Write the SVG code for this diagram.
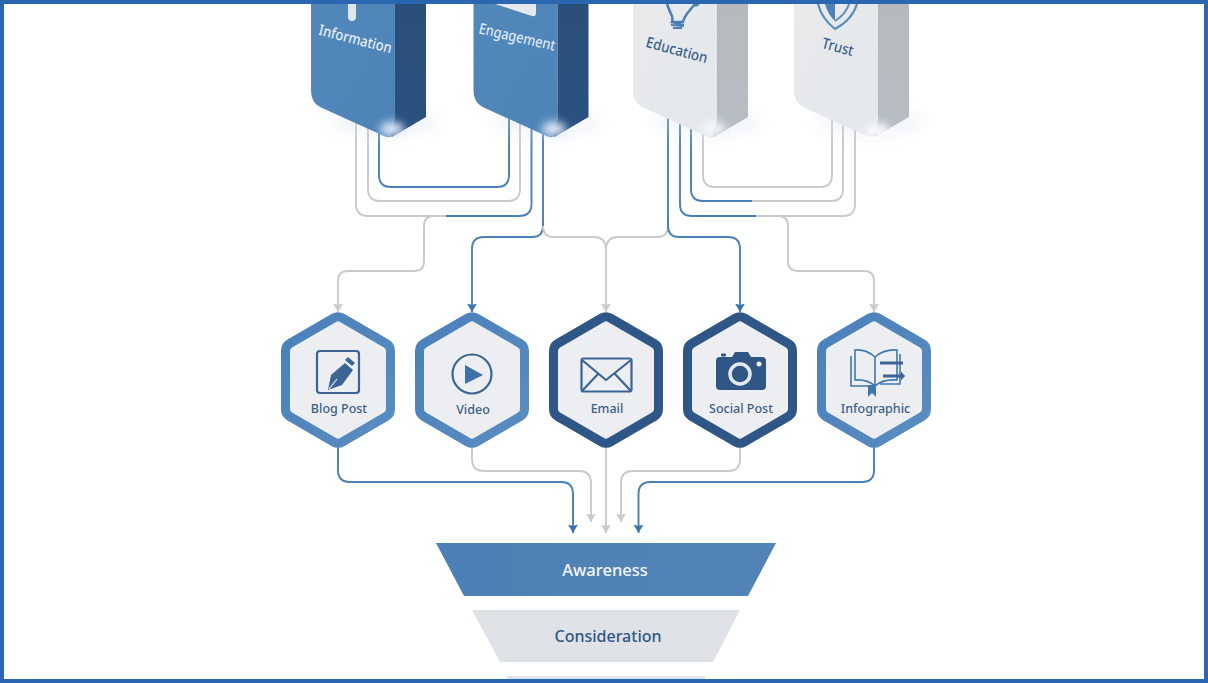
<svg xmlns="http://www.w3.org/2000/svg" width="1208" height="683" viewBox="0 0 1208 683">
<style>
.f{font-family:"Noto Sans","Open Sans","Liberation Sans",sans-serif}
.c{fill:none;stroke-width:1.900;stroke-linejoin:round}
.g{stroke:#c8cacc}
.b{stroke:#4a80b8}
.ag{marker-end:url(#ahg)}
.ab{marker-end:url(#ahb)}
.hx{fill:#eceef1;stroke-width:9;stroke-linejoin:round}
.hl{stroke:url(#hexL)}
.hd{stroke:#2e5687}
.hlab{font-size:12.500px;font-weight:500;fill:#3e5f88;text-anchor:middle}
.bl{font-size:15px;font-weight:500;text-anchor:middle}
.ic{fill:none;stroke:#3a6595;stroke-width:2.200;stroke-linejoin:round}
</style>
<defs>
<marker id="ahg" markerUnits="userSpaceOnUse" markerWidth="11" markerHeight="12" refX="8.500" refY="5.500" orient="auto"><path d="M0 0.500L8.500 5.500L0 10.500L1.500 5.500Z" fill="#c8cacc"/></marker>
<marker id="ahb" markerUnits="userSpaceOnUse" markerWidth="11" markerHeight="12" refX="8.500" refY="5.500" orient="auto"><path d="M0 0.500L8.500 5.500L0 10.500L1.500 5.500Z" fill="#3a72ad"/></marker>
<linearGradient id="hexL" x1="0" y1="0" x2="1" y2="1"><stop offset="0" stop-color="#4a80ba"/><stop offset="1" stop-color="#5a8cc0"/></linearGradient>
<linearGradient id="fb" x1="0" y1="0" x2="1" y2="1"><stop offset="0" stop-color="#5287bb"/><stop offset="1" stop-color="#4f84b8"/></linearGradient>
<linearGradient id="sb" x1="0" y1="0" x2="0" y2="1"><stop offset="0" stop-color="#2a5078"/><stop offset="1" stop-color="#2a5280"/></linearGradient>
<linearGradient id="fg" x1="0" y1="0" x2="1" y2="1"><stop offset="0" stop-color="#e8eaeb"/><stop offset="1" stop-color="#e4e8ec"/></linearGradient>
<linearGradient id="sg" x1="0" y1="0" x2="0" y2="1"><stop offset="0" stop-color="#b5b9bb"/><stop offset="1" stop-color="#b6bdc4"/></linearGradient>
<linearGradient id="fun" x1="0" y1="0" x2="1" y2="0"><stop offset="0" stop-color="#4c80b6"/><stop offset="1" stop-color="#5384b8"/></linearGradient>
<filter id="bl8" x="-60%" y="-60%" width="220%" height="220%"><feGaussianBlur stdDeviation="8"/></filter>
<filter id="bl3" x="-80%" y="-80%" width="260%" height="260%"><feGaussianBlur stdDeviation="4"/></filter>
<path id="blk" d="M0 -4H84V126L80 131.500Q78 133 74 131.500L9 102Q0 97 0 86Z"/>
<path id="side" d="M84 -4H115V112L81 132Q78 133 84 115Z"/>
<path id="hex" d="M-4.300 -62Q0 -64.500 4.300 -62L48.200 -36.500Q52.500 -34 52.500 -29V29Q52.500 34 48.200 36.500L4.300 62Q0 64.500 -4.300 62L-48.200 36.500Q-52.500 34 -52.500 29V-29Q-52.500 -34 -48.200 -36.500Z"/>
</defs>
<rect width="1208" height="683" fill="#fff"/>

<g id="connectors">
<path class="c b" d="M379 120V175Q379 187 391 187H497Q509 187 509 175V110"/>
<path class="c g" d="M368 120V189Q368 201 380 201H508Q520 201 520 189V110"/>
<path class="c g" d="M356 120V204Q356 216 368 216H446"/>
<path class="c b" d="M446 216H519Q531.500 216 531.500 204V120"/>
<path class="c g ag" d="M440 216H434Q424 216 424 226V261Q424 271 414 271H348Q338 271 338 281V312"/>
<path class="c b" d="M543 120V226"/>
<path class="c b ab" d="M543 220V226Q543 237 532 237H484Q472 237 472 249V312"/>
<path class="c g" d="M543 226Q543 237 554 237H594Q605 237 606 248"/>
<path class="c g ag" d="M606 248V312"/>
<path class="c g" d="M668 226Q668 237 657 237H618Q607 237 606 248"/>
<path class="c b" d="M668 110V226"/>
<path class="c b ab" d="M668 220V226Q668 237 679 237H728Q740 237 740 249V312"/>
<path class="c b" d="M680 120V204Q680 216 692 216H756"/>
<path class="c g" d="M756 216H843Q855 216 855 204V120"/>
<path class="c g ag" d="M778 216Q788 216 788 226V261Q788 271 798 271H864Q874 271 874 281V312"/>
<path class="c b" d="M691 120V189Q691 201 703 201H752"/>
<path class="c g" d="M752 201H831Q843 201 843 189V110"/>
<path class="c g" d="M703 120V175Q703 187 715 187H820Q832 187 832 175V110"/>
<path class="c b ab" d="M338 447V470Q338 482 350 482H561Q573 482 573 494V533"/>
<path class="c g ag" d="M472 447V459Q472 471 484 471H579Q591 471 591 483V522"/>
<path class="c g ag" d="M606 447V533"/>
<path class="c g ag" d="M740 447V459Q740 471 728 471H633Q621 471 621 483V522"/>
<path class="c b ab" d="M874 447V470Q874 482 862 482H650.500Q638.500 482 638.500 494V533"/>
</g>

<g id="information">
<ellipse cx="385" cy="122" rx="55" ry="14" fill="#c7d8ea" opacity=".25" filter="url(#bl8)"/>
<use href="#blk" x="311" y="5" fill="url(#fb)"/><use href="#side" x="311" y="5" fill="url(#sb)"/>
<ellipse cx="392" cy="129" rx="12" ry="7" fill="#dfeafa" filter="url(#bl3)"/>
<path d="M348 4H356V17Q356 21 352 21Q348 21 348 17Z" fill="#dfe6ec"/>
<text class="f bl" transform="translate(354 44) rotate(14.500)" fill="#e6eef6" textLength="75" lengthAdjust="spacingAndGlyphs">Information</text>
</g>
<g id="engagement">
<ellipse cx="547" cy="122" rx="55" ry="14" fill="#c7d8ea" opacity=".25" filter="url(#bl8)"/>
<use href="#blk" x="473.500" y="5" fill="url(#fb)"/><use href="#side" x="473.500" y="5" fill="url(#sb)"/>
<ellipse cx="554" cy="129" rx="12" ry="7" fill="#dfeafa" filter="url(#bl3)"/>
<path d="M495 4H536V13Q536 17 532 16Z" fill="#e4e9ee"/>
<text class="f bl" transform="translate(516 42) rotate(13)" fill="#dde8f2" textLength="78" lengthAdjust="spacingAndGlyphs">Engagement</text>
</g>
<g id="education">
<ellipse cx="708" cy="122" rx="55" ry="14" fill="#d3dfeb" opacity=".3" filter="url(#bl8)"/>
<use href="#blk" x="633" y="5" fill="url(#fg)"/><use href="#side" x="633" y="5" fill="url(#sg)"/>
<ellipse cx="714" cy="129" rx="12" ry="7" fill="#f4f8fc" filter="url(#bl3)"/>
<path d="M667 4Q670 12 672 16Q673 20 672 22H683Q684 17 690 10L695 4" fill="none" stroke="#4a7fb3" stroke-width="2.500"/>
<path d="M695 6L699 4" stroke="#4a7fb3" stroke-width="2.500"/>
<path d="M671 22L684 25M671 25L684 26M673 28L682 28" stroke="#4a7fb3" stroke-width="1.800" fill="none"/>
<text class="f bl" transform="translate(675.500 55) rotate(15)" fill="#3a608c" textLength="63" lengthAdjust="spacingAndGlyphs">Education</text>
</g>
<g id="trust">
<ellipse cx="870" cy="122" rx="55" ry="14" fill="#d3dfeb" opacity=".3" filter="url(#bl8)"/>
<use href="#blk" x="794" y="5" fill="url(#fg)"/><use href="#side" x="794" y="5" fill="url(#sg)"/>
<ellipse cx="878" cy="131" rx="12" ry="8" fill="#fafcff" filter="url(#bl3)"/>
<path d="M818 4Q822 19 835 29Q852 20 857 4" fill="none" stroke="#5b8cbb" stroke-width="2.200"/>
<path d="M825 4Q828 15 835 21V4Z" fill="#4f83b6"/>
<path d="M835 21Q846 14 849 4" fill="none" stroke="#5b8cbb" stroke-width="2"/>
<text class="f bl" transform="translate(836.500 52) rotate(15)" fill="#3a608c" textLength="32" lengthAdjust="spacingAndGlyphs">Trust</text>
</g>

<g id="blog-post">
<use href="#hex" x="338" y="380" class="hx hl"/>
<rect x="317" y="351" width="42" height="42" rx="3" class="ic"/>
<path d="M345 363L353 370L342 385L328 390L331 375Z" fill="#3a6595"/>
<path d="M345 360L348 357L355 363L352 366Z" fill="#3a6595"/>
<path d="M329 389L337 379" stroke="#eceef1" stroke-width="1.200"/>
<text class="f hlab" x="339" y="413">Blog Post</text>
</g>
<g id="video">
<use href="#hex" x="472" y="380" class="hx hl"/>
<circle cx="472" cy="374" r="19.500" class="ic"/>
<path d="M465 365L483 375L465 384Z" fill="#3f6fa5"/>
<text class="f hlab" x="473" y="414">Video</text>
</g>
<g id="email">
<use href="#hex" x="606" y="380" class="hx hd"/>
<rect x="581.500" y="358.500" width="50" height="33" rx="2" class="ic"/>
<path d="M582 360L606 380L631 360M582 391L598 374M631 391L615 374" class="ic"/>
<text class="f hlab" x="607" y="413">Email</text>
</g>
<g id="social-post">
<use href="#hex" x="740" y="380" class="hx hd"/>
<path d="M720 357H732L735 352H748L751 357H762Q766 357 766 361V386Q766 390 762 390H720Q716 390 716 386V361Q716 357 720 357Z" fill="#2f5684"/>
<rect x="721" y="353.500" width="5" height="3" rx="1" fill="#2f5684"/>
<circle cx="740" cy="374" r="10" fill="#2f5684" stroke="#e4e9ee" stroke-width="3.500"/>
<circle cx="759" cy="364" r="2.500" fill="#eef2f5"/>
<text class="f hlab" x="741" y="413">Social Post</text>
</g>
<g id="infographic">
<use href="#hex" x="874" y="380" class="hx hl"/>
<path d="M875 357Q866 349 855 350V380Q867 379 875 386Q883 379 897 380V350Q884 349 875 357ZM875 357V386" fill="none" stroke="#3f77ad" stroke-width="1.600"/>
<path d="M851 356V386H870M900 354V384H880" fill="none" stroke="#3f77ad" stroke-width="1.600"/>
<path d="M880 363H903" stroke="#3a6595" stroke-width="3"/>
<path d="M883 376H901" stroke="#3a6595" stroke-width="3"/>
<path d="M901 371.500L905 376L901 380.500Z" fill="#3a6595"/>
<path d="M868 385H876V397L872 393L868 397Z" fill="#3f77ad"/>
<text class="f hlab" x="875.500" y="413">Infographic</text>
</g>

<g id="awareness">
<path d="M436 543H776L748 596H464Z" fill="url(#fun)"/>
<text class="f" x="605" y="576" font-size="16.500" font-weight="500" fill="#f4f7fa" text-anchor="middle">Awareness</text>
</g>
<g id="consideration">
<path d="M472 610H740L713 662H500Z" fill="#dfe2e6"/>
<text class="f" x="608" y="642" font-size="16" font-weight="500" fill="#2f5684" text-anchor="middle">Consideration</text>
</g>
<g id="next-stage"><path d="M507 676H705V680H507Z" fill="#dbe5f0"/></g>
<rect id="frame" x="2" y="2" width="1204" height="679" fill="none" stroke="#2a66b2" stroke-width="4"/>
</svg>
